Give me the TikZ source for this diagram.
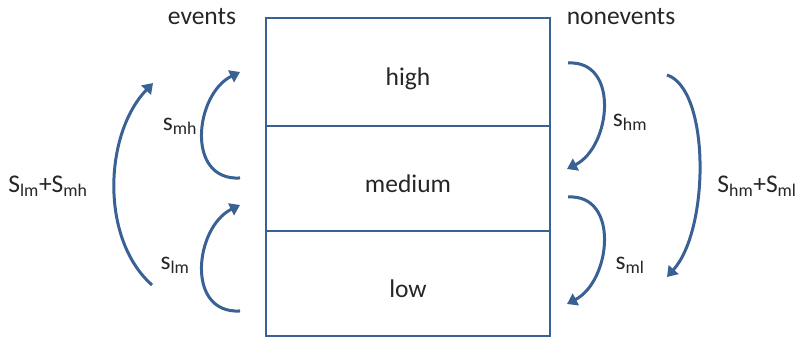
\documentclass[tikz,border=0pt]{standalone}
\usepackage{fontspec}
\setmainfont{Carlito}
\usepackage{xcolor}
\usetikzlibrary{arrows.meta, positioning}

\definecolor{flowblue}{RGB}{57,97,148}
\definecolor{inktext}{RGB}{38,38,38}

\begin{document}
\begin{tikzpicture}[
  x=1pt, y=1pt,
  font=\fontsize{25.5}{30}\selectfont, text=inktext,
  cell/.style={draw=flowblue, line width=2.2pt, minimum width=284pt,
               inner sep=0pt, outer sep=0pt, text height=30pt, text depth=2pt},
  flow/.style={-{Triangle[length=10pt,width=13pt]}, flowblue, line width=3pt},
  lab/.style={inner sep=0pt},
]
\useasboundingbox (0,0) rectangle (800,339);

% the three classes
\node[cell, minimum height=108pt]                     (high)   at (408,267) {high};
\node[cell, minimum height=105pt, below=0pt of high]   (medium) {medium};
\node[cell, minimum height=105pt, below=0pt of medium] (low)    {low};

\node[lab] (events)    at (202,322) {events};
\node[lab] (nonevents) at (621,322) {nonevents};

% arrow ends
\coordinate (mhS) at (240,161);  \coordinate (mhE) at (240,267);
\coordinate (lmS) at (240,28);   \coordinate (lmE) at (240,134);
\coordinate (upS) at (152,54);   \coordinate (upE) at (153,256);
\coordinate (hmS) at (568,276);  \coordinate (hmE) at (567,170);
\coordinate (mlS) at (568,142);  \coordinate (mlE) at (567,35);
\coordinate (dnS) at (667,264);  \coordinate (dnE) at (667,62);

% events side
\draw[flow] (mhS) .. controls (185,158) and (195,245) .. (mhE);
\draw[flow] (lmS) .. controls (185,25) and (195,112) .. (lmE);
\draw[flow] (upS) .. controls (100,100) and (104,205) .. (upE);

% nonevents side
\draw[flow] (hmS) .. controls (620,279) and (611,192) .. (hmE);
\draw[flow] (mlS) .. controls (620,145) and (611,58) .. (mlE);
\draw[flow] (dnS) .. controls (710,250) and (710,110) .. (dnE);

\node[lab] (smh)  at (180,213) {s\textsubscript{mh}};
\node[lab] (slm)  at (175,74)  {s\textsubscript{lm}};
\node[lab] (sup)  at (48,153)  {S\textsubscript{lm}+S\textsubscript{mh}};
\node[lab] (shm)  at (630,217) {s\textsubscript{hm}};
\node[lab] (sml)  at (630,74)  {s\textsubscript{ml}};
\node[lab] (sdn)  at (757,153) {S\textsubscript{hm}+S\textsubscript{ml}};
\end{tikzpicture}
\end{document}
